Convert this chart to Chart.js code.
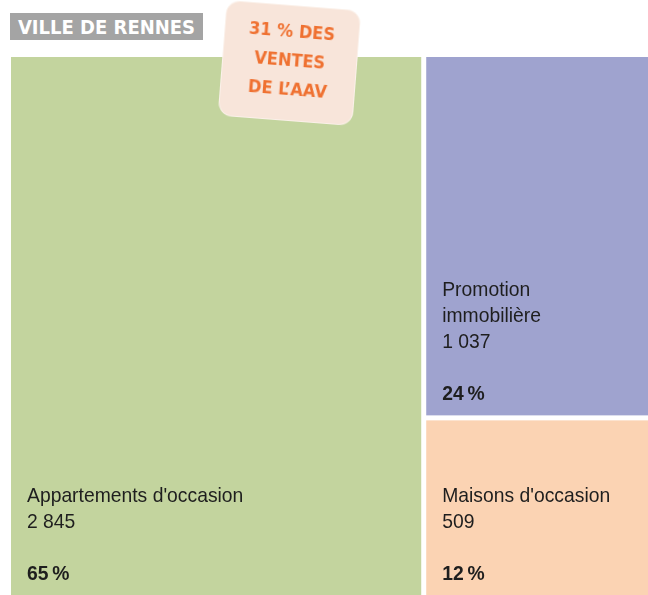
<!DOCTYPE html>
<html>
<head>
<meta charset="utf-8">
<script src="https://cdn.jsdelivr.net/npm/chart.js@4.4.1/dist/chart.umd.min.js"></script>
<style>
  html, body { margin: 0; padding: 0; background: #fff; }
  #wrap { position: relative; width: 648px; height: 595px; overflow: hidden; }
  #title {
    position: absolute; left: 10px; top: 13px; width: 193px; height: 27px;
    background: #a4a4a4; color: #fff; text-align: center;
    font: bold 20px 'DejaVu Sans Condensed', sans-serif; line-height: 28px;
  }
  #badge {
    position: absolute; left: 223px; top: 6px; width: 133px; height: 114px;
    background: #f8e5da; border-radius: 13px; transform: rotate(4.5deg);
    box-shadow: 0 0 0 1px #fbf1ea;
    color: #ef7131; text-align: center;
    font: bold 18px 'DejaVu Sans Condensed', sans-serif; line-height: 29px;
    padding-top: 10px; box-sizing: border-box;
  }
</style>
</head>
<body>
<div id="wrap">
  <canvas id="treemap" width="648" height="595"></canvas>
  <div id="title">VILLE DE RENNES</div>
  <div id="badge">31 % DES<br>VENTES<br>DE L’AAV</div>
</div>
<script>
// données : ventes par type de bien
const categories = ["Appartements d'occasion", 'Promotion immobilière', "Maisons d'occasion"];
const labelLines = [["Appartements d'occasion"], ['Promotion', 'immobilière'], ["Maisons d'occasion"]];
const ventes = [2845, 1037, 509];
const couleurs = ['#c3d49e', '#9fa3cf', '#fbd3b3'];

const total = ventes.reduce((a, b) => a + b, 0);
const resteDroite = ventes[1] + ventes[2];

// blocs en unités des axes : x = ventes cumulées, y = part de la colonne
const blocs = [
  { x0: 0, x1: ventes[0], y0: 0, y1: 1 },
  { x0: ventes[0], x1: total, y0: ventes[2] / resteDroite, y1: 1 },
  { x0: ventes[0], x1: total, y0: 0, y1: ventes[2] / resteDroite }
];

function fmt(n) {
  return String(n).replace(/\B(?=(\d{3})+(?!\d))/g, ' ');
}

const treemapPlugin = {
  id: 'treemap',
  afterDatasetsDraw(chart) {
    const ctx = chart.ctx;
    const sx = chart.scales.x, sy = chart.scales.y;
    const area = chart.chartArea;
    const gap = 2.5;
    const serre = 0.92; // police un peu condensée
    ctx.save();
    blocs.forEach((b, i) => {
      let left = sx.getPixelForValue(b.x0);
      let right = sx.getPixelForValue(b.x1);
      let top = sy.getPixelForValue(b.y1);
      let bottom = sy.getPixelForValue(b.y0);
      // espace blanc seulement entre les blocs
      if (left > area.left + 1) left += gap;
      if (right < area.right - 1) right -= gap;
      if (top > area.top + 1) top += gap;
      if (bottom < area.bottom - 1) bottom -= gap;
      ctx.fillStyle = couleurs[i];
      ctx.fillRect(left, top, right - left, bottom - top);

      // texte aligné en bas
      const pct = Math.round(ventes[i] / total * 100);
      const lignes = labelLines[i].concat([fmt(ventes[i]), '']);
      const lh = 26;
      const tx = left + 16;
      let base = bottom - 15;
      ctx.save();
      ctx.translate(tx, 0);
      ctx.scale(serre, 1);
      ctx.fillStyle = '#1e1e1e';
      ctx.textBaseline = 'alphabetic';
      ctx.font = 'bold 21px "Liberation Sans", Arial, sans-serif';
      ctx.fillText(pct + '\u202f%', 0, base);
      ctx.font = '21px "Liberation Sans", Arial, sans-serif';
      for (let k = lignes.length - 1; k >= 0; k--) {
        base -= lh;
        ctx.fillText(lignes[k], 0, base);
      }
      ctx.restore();
    });
    ctx.restore();
  }
};

new Chart(document.getElementById('treemap'), {
  type: 'scatter',
  data: { datasets: [{ data: [] }] },
  options: {
    responsive: false,
    animation: false,
    layout: { padding: { left: 11, top: 57, right: 0, bottom: 0 } },
    scales: {
      x: { type: 'linear', min: 0, max: total, display: false },
      y: { type: 'linear', min: 0, max: 1, display: false }
    },
    plugins: { legend: { display: false }, tooltip: { enabled: false } }
  },
  plugins: [treemapPlugin]
});
</script>
</body>
</html>
